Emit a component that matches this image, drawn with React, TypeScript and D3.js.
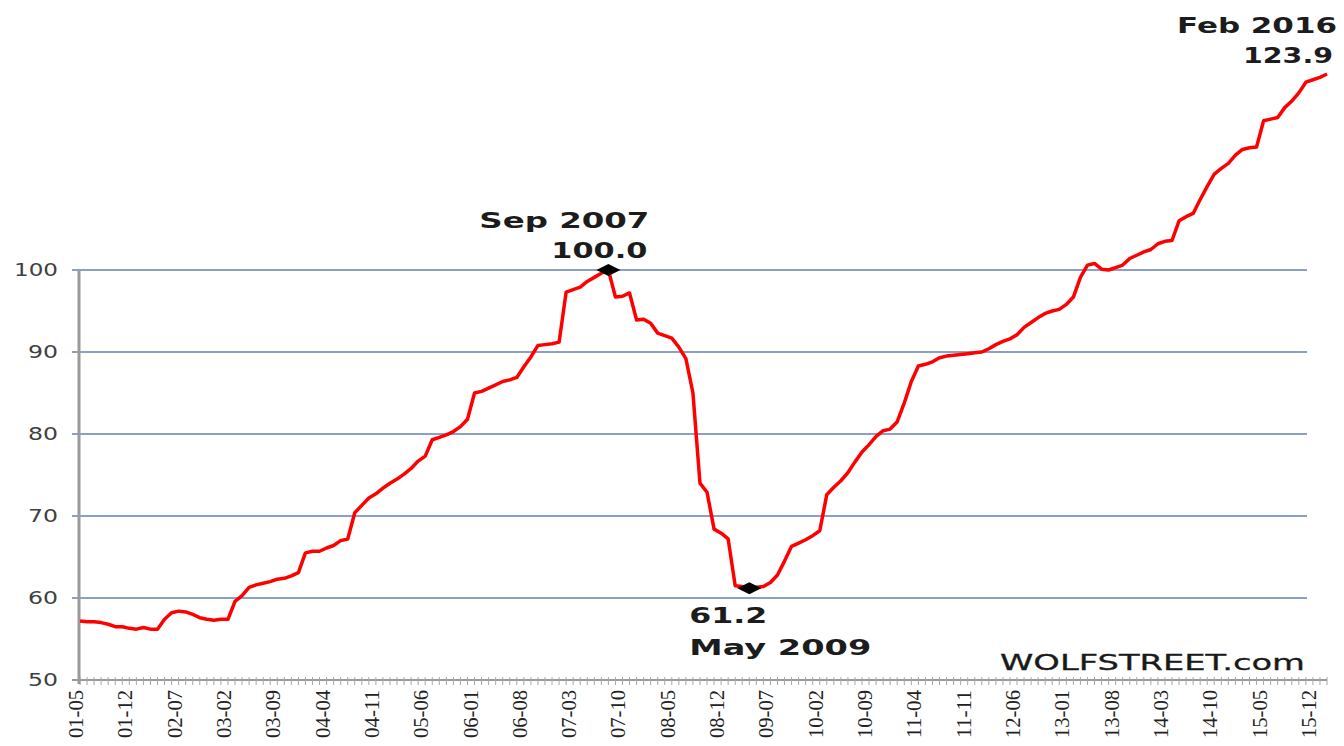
import React from "react";
import * as d3 from "d3";

// Monthly index, May 2001 .. Feb 2016 (Sep 2007 = 100)
const values: number[] = [
  57.2, 57.1, 57.1, 57.0, 56.8, 56.5, 56.5, 56.3, 56.2, 56.4,
  56.2, 56.2, 57.4, 58.2, 58.4, 58.3, 58.0, 57.6, 57.4, 57.3,
  57.4, 57.4, 59.6, 60.3, 61.3, 61.6, 61.8, 62.0, 62.3, 62.4,
  62.7, 63.1, 65.5, 65.7, 65.7, 66.1, 66.4, 67.0, 67.2, 70.4,
  71.3, 72.2, 72.7, 73.4, 74.0, 74.5, 75.1, 75.8, 76.7, 77.3,
  79.3, 79.6, 79.9, 80.3, 80.9, 81.8, 85.0, 85.2, 85.6, 86.0,
  86.4, 86.6, 86.9, 88.2, 89.4, 90.8, 90.9, 91.0, 91.2, 97.3,
  97.6, 97.9, 98.6, 99.1, 99.6, 100.0, 96.7, 96.8, 97.2, 93.9,
  94.0, 93.5, 92.3, 92.0, 91.7, 90.6, 89.2, 85.0, 74.0, 72.9,
  68.4, 67.9, 67.2, 61.5, 61.4, 61.2, 61.3, 61.4, 61.9, 62.8,
  64.5, 66.3, 66.7, 67.1, 67.6, 68.2, 72.6, 73.5, 74.3, 75.3,
  76.6, 77.8, 78.7, 79.7, 80.4, 80.6, 81.5, 83.8, 86.4, 88.3,
  88.5, 88.8, 89.3, 89.5, 89.6, 89.7, 89.8, 89.9, 90.0, 90.4,
  90.9, 91.3, 91.6, 92.1, 93.0, 93.6, 94.2, 94.7, 95.0, 95.2,
  95.8, 96.7, 99.1, 100.6, 100.8, 100.1, 100.0, 100.3, 100.6, 101.4,
  101.8, 102.2, 102.5, 103.2, 103.5, 103.6, 106.0, 106.5, 106.9, 108.6,
  110.2, 111.7, 112.4, 113.0, 114.0, 114.7, 114.9, 115.0, 118.2, 118.4,
  118.6, 119.8, 120.6, 121.6, 122.9, 123.2, 123.5, 123.9,
];

const tickLabels: string[] = [
  "01-05", "01-12", "02-07", "03-02", "03-09", "04-04", "04-11", "05-06", "06-01",
  "06-08", "07-03", "07-10", "08-05", "08-12", "09-07", "10-02", "10-09", "11-04",
  "11-11", "12-06", "13-01", "13-08", "14-03", "14-10", "15-05", "15-12",
];
const TICK_EVERY = 7;
const yTicks: number[] = [50, 60, 70, 80, 90, 100];

const peakLabel = ["Sep 2007", "100.0"];
const troughLabel = ["61.2", "May 2009"];
const lastLabel = ["Feb 2016", "123.9"];
const watermark = "WOLFSTREET.com";

const W = 1344;
const H = 746;

export default function App() {
  const x = d3.scaleLinear().domain([0, values.length - 1]).range([80, 1327]);
  const y = d3.scaleLinear().domain([50, 100]).range([680, 270]);
  const gridRight = 1307;

  const line = d3
    .line<number>()
    .x((_, i) => x(i))
    .y((d) => y(d))
    .curve(d3.curveLinear);

  const peakIdx = d3.maxIndex(values.slice(0, 100));
  const troughIdx = peakIdx + d3.minIndex(values.slice(peakIdx, 130));
  const lastIdx = values.length - 1;

  const diamond = (cx: number, cy: number) =>
    d3.line()([
      [cx - 12, cy],
      [cx, cy - 6],
      [cx + 12, cy],
      [cx, cy + 6],
    ]) + "Z";

  const annFont = "'DejaVu Sans', Verdana, sans-serif";
  const annColor = "#1c1c1c";

  return (
    <div style={{ position: "fixed", left: 0, top: 0, width: W, height: H, background: "#fff" }}>
      <svg width={W} height={H} style={{ display: "block" }}>
        <rect width={W} height={H} fill="#ffffff" />
        {/* gridlines */}
        {yTicks.filter((t) => t !== 50).map((t) => (
          <line key={t} x1={72} x2={gridRight} y1={y(t)} y2={y(t)} stroke="#8c9fc6" strokeWidth={2} />
        ))}
        {/* y labels */}
        {yTicks.map((t) => (
          <text
            key={"yl" + t}
            x={58}
            y={y(t) + 6}
            textAnchor="end"
            fontFamily={annFont}
            fontSize={17}
            fill="#404040"
            textLength={String(t).length === 3 ? 44 : 30}
            lengthAdjust="spacingAndGlyphs"
          >
            {t}
          </text>
        ))}
        {/* x axis with monthly ticks */}
        <line x1={72} x2={gridRight + 20} y1={680} y2={680} stroke="#9a9a9a" strokeWidth={2} />
        {values.map((_, i) => (
          <line key={"xt" + i} x1={x(i)} x2={x(i)} y1={677} y2={685} stroke="#a8a8a8" strokeWidth={1} />
        ))}
        {/* y axis */}
        <line x1={79} x2={79} y1={270} y2={684} stroke="#9a9a9a" strokeWidth={3} />
        {/* x labels */}
        {tickLabels.map((lab, k) => {
          const xi = x(k * TICK_EVERY);
          return (
            <text
              key={lab}
              transform={`translate(${xi + 3},${690}) rotate(-90)`}
              textAnchor="end"
              fontFamily="'Liberation Serif', 'Times New Roman', serif"
              fontSize={22}
              fill="#222"
              textLength={48}
              lengthAdjust="spacingAndGlyphs"
            >
              {lab}
            </text>
          );
        })}
        {/* series */}
        <path d={line(values) || ""} fill="none" stroke="#ff0000" strokeWidth={3.5} strokeLinejoin="round" />
        {/* markers */}
        <path d={diamond(x(peakIdx), y(values[peakIdx]))} fill="#000" />
        <path d={diamond(x(troughIdx), y(values[troughIdx]))} fill="#000" />
        {/* annotations */}
        <g fontFamily={annFont} fontWeight="bold" fontSize={21} fill={annColor}>
          <text x={x(peakIdx) - 44} y={228} textAnchor="middle" textLength={170} lengthAdjust="spacingAndGlyphs">
            {peakLabel[0]}
          </text>
          <text x={x(peakIdx) - 9} y={258} textAnchor="middle" textLength={96} lengthAdjust="spacingAndGlyphs">
            {peakLabel[1]}
          </text>
          <text x={x(troughIdx) - 21} y={623} textAnchor="middle" textLength={78} lengthAdjust="spacingAndGlyphs">
            {troughLabel[0]}
          </text>
          <text x={x(troughIdx) + 31} y={655} textAnchor="middle" textLength={182} lengthAdjust="spacingAndGlyphs">
            {troughLabel[1]}
          </text>
          <text x={x(lastIdx) + 10} y={33} textAnchor="end" textLength={160} lengthAdjust="spacingAndGlyphs">
            {lastLabel[0]}
          </text>
          <text x={x(lastIdx) + 6} y={63} textAnchor="end" textLength={90} lengthAdjust="spacingAndGlyphs">
            {lastLabel[1]}
          </text>
        </g>
        <text
          x={1305}
          y={670}
          textAnchor="end"
          fontFamily={annFont}
          fontSize={22}
          fill="#1a1a1a"
          stroke="#1a1a1a"
          strokeWidth={0.3}
          textLength={305}
          lengthAdjust="spacingAndGlyphs"
        >
          {watermark}
        </text>
      </svg>
    </div>
  );
}
